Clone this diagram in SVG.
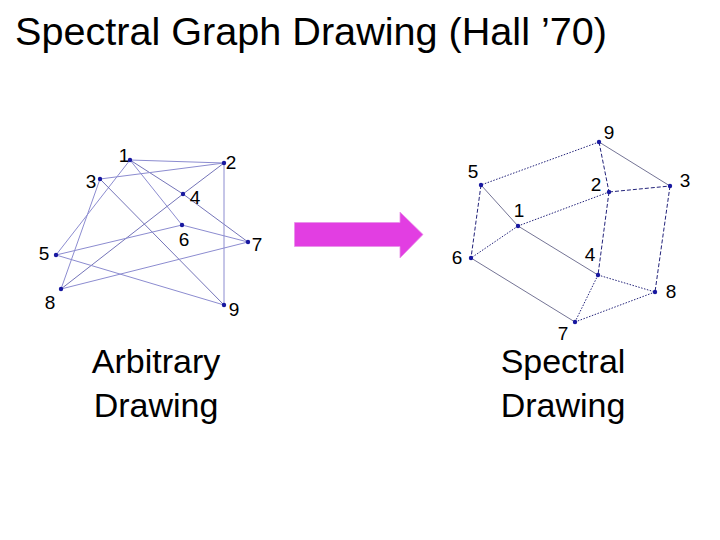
<svg xmlns="http://www.w3.org/2000/svg" width="720" height="540" viewBox="0 0 720 540">
<style>
text{font-family:"Liberation Sans",Arial,sans-serif;fill:#000}
.lbl{font-size:19px;text-anchor:middle}
.big{font-size:34px;text-anchor:middle}
.dot{fill:#1818a0}
.le{stroke:#8c8cd0;stroke-width:1;fill:none}
.le2{stroke:#6464b0;stroke-width:0.9;fill:none}
.rd{stroke:#23237a;stroke-width:1;fill:none;stroke-dasharray:4,2}
.rp{stroke:#23237a;stroke-width:1;fill:none;stroke-dasharray:1.5,1.5}
.rs{stroke:#50507a;stroke-width:0.8;fill:none}
</style>
<rect width="720" height="540" fill="#fff"/>
<text x="15" y="45" font-size="38" textLength="592" lengthAdjust="spacingAndGlyphs">Spectral Graph Drawing (Hall ’70)</text>

<g id="left-connectors">
<line class="le" x1="130" y1="160" x2="224" y2="163"/>
<line class="le2" x1="130" y1="160" x2="183" y2="194"/>
<line class="le2" x1="183" y1="194" x2="248" y2="242"/>
<line class="le" x1="130" y1="160" x2="182" y2="225"/>
<line class="le" x1="130" y1="160" x2="56" y2="255"/>
<line class="le" x1="100" y1="179" x2="224" y2="163"/>
<line class="le2" x1="224" y1="163" x2="183" y2="194"/>
<line class="le2" x1="183" y1="194" x2="61" y2="289"/>
<line class="le" x1="224" y1="163" x2="224" y2="305"/>
<line class="le" x1="100" y1="179" x2="61" y2="289"/>
<line class="le2" x1="100" y1="179" x2="224" y2="305"/>
<line class="le" x1="56" y1="255" x2="182" y2="225"/>
<line class="le" x1="182" y1="225" x2="248" y2="242"/>
<line class="le" x1="56" y1="255" x2="224" y2="305"/>
<line class="le" x1="61" y1="289" x2="248" y2="242"/>
</g>

<g id="L1"><circle class="dot" cx="130" cy="160" r="2.2"/><text class="lbl" x="124" y="162">1</text></g>
<g id="L2"><circle class="dot" cx="224" cy="163" r="2.2"/><text class="lbl" x="231" y="168.5">2</text></g>
<g id="L3"><circle class="dot" cx="100" cy="179" r="2.2"/><text class="lbl" x="91" y="187.5">3</text></g>
<g id="L4"><circle class="dot" cx="183" cy="194" r="2.2"/><text class="lbl" x="195" y="204">4</text></g>
<g id="L5"><circle class="dot" cx="56" cy="255" r="2.2"/><text class="lbl" x="44" y="259.5">5</text></g>
<g id="L6"><circle class="dot" cx="182" cy="225" r="2.2"/><text class="lbl" x="184" y="246">6</text></g>
<g id="L7"><circle class="dot" cx="248" cy="242" r="2.2"/><text class="lbl" x="257" y="251">7</text></g>
<g id="L8"><circle class="dot" cx="61" cy="289" r="2.2"/><text class="lbl" x="50" y="308.5">8</text></g>
<g id="L9"><circle class="dot" cx="224" cy="305" r="2.2"/><text class="lbl" x="234" y="316">9</text></g>

<g id="arrow"><polygon points="294.5,222.5 400,222.5 400,212 423,234.5 400,258 400,246.5 294.5,246.5" fill="#e23ee2" stroke="#e890e8" stroke-width="0.8"/></g>

<g id="right-connectors">
<line class="rp" x1="599" y1="142" x2="481" y2="185"/>
<line class="rd" x1="599" y1="142" x2="609" y2="192"/>
<line class="rs" x1="599" y1="142" x2="670" y2="186"/>
<line class="rd" x1="481" y1="185" x2="471" y2="258"/>
<line class="rs" x1="481" y1="185" x2="518" y2="226"/>
<line class="rp" x1="518" y1="226" x2="609" y2="192"/>
<line class="rp" x1="518" y1="226" x2="471" y2="258"/>
<line class="rs" x1="518" y1="226" x2="598" y2="275"/>
<line class="rd" x1="609" y1="192" x2="670" y2="186"/>
<line class="rd" x1="609" y1="192" x2="598" y2="275"/>
<line class="rd" x1="670" y1="186" x2="655" y2="292"/>
<line class="rp" x1="598" y1="275" x2="655" y2="292"/>
<line class="rp" x1="598" y1="275" x2="575" y2="322"/>
<line class="rs" x1="471" y1="258" x2="575" y2="322"/>
<line class="rp" x1="575" y1="322" x2="655" y2="292"/>
</g>

<g id="R9"><circle class="dot" cx="599" cy="142" r="2.2"/><text class="lbl" x="609" y="138.5">9</text></g>
<g id="R5"><circle class="dot" cx="481" cy="185" r="2.2"/><text class="lbl" x="473" y="178">5</text></g>
<g id="R2"><circle class="dot" cx="609" cy="192" r="2.2"/><text class="lbl" x="596" y="191">2</text></g>
<g id="R3"><circle class="dot" cx="670" cy="186" r="2.2"/><text class="lbl" x="685" y="187">3</text></g>
<g id="R1"><circle class="dot" cx="518" cy="226" r="2.2"/><text class="lbl" x="519" y="217">1</text></g>
<g id="R6"><circle class="dot" cx="471" cy="258" r="2.2"/><text class="lbl" x="457" y="263.5">6</text></g>
<g id="R4"><circle class="dot" cx="598" cy="275" r="2.2"/><text class="lbl" x="590" y="261">4</text></g>
<g id="R8"><circle class="dot" cx="655" cy="292" r="2.2"/><text class="lbl" x="671" y="297.5">8</text></g>
<g id="R7"><circle class="dot" cx="575" cy="322" r="2.2"/><text class="lbl" x="563" y="339.5">7</text></g>

<g id="cap-left"><text class="big" x="156" y="373">Arbitrary</text><text class="big" x="156" y="417">Drawing</text></g>
<g id="cap-right"><text class="big" x="563" y="373">Spectral</text><text class="big" x="563" y="417">Drawing</text></g>
</svg>
